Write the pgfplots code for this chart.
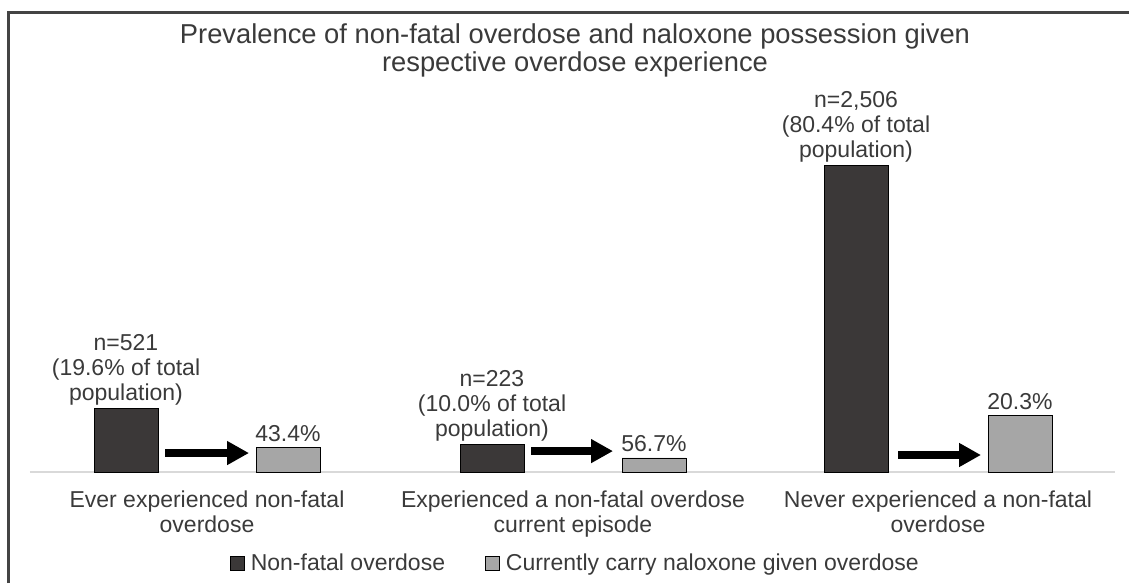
\documentclass[border=0pt]{standalone}
\usepackage{pgfplots}
\pgfplotsset{compat=1.18}
\usepackage{fontspec}
\setmainfont{Liberation Sans}
\usetikzlibrary{arrows.meta}
\definecolor{darkbar}{HTML}{3B3838}
\definecolor{lightbar}{HTML}{A6A6A6}
\definecolor{txt}{HTML}{3A3A3A}
\definecolor{frame}{HTML}{444444}
\definecolor{baseln}{HTML}{D9D9D9}
\newcommand{\lbl}{\fontsize{17.25pt}{18.75pt}\selectfont}

\begin{document}
\begin{tikzpicture}
\useasboundingbox (0,0) rectangle (846.75pt,437.25pt);
% frame (only top and left edges are inside the picture)
\draw[frame, line width=2.2pt] (6.4pt,0pt) -- (6.4pt,427.9pt) -- (846.75pt,427.9pt);
\node[anchor=north, align=center, text=txt, inner sep=0pt,
      font=\fontsize{20.5pt}{20.5pt}\selectfont] at (431.25pt,419.5pt)
  {Prevalence of non-fatal overdose and naloxone possession given\\respective overdose experience};

\begin{axis}[
  at={(22.5pt,83.25pt)}, anchor=south west,
  scale only axis, width=813.75pt, height=275.25pt,
  xmin=30, xmax=1115, ymin=0, ymax=3000,
  clip=false,
  hide y axis,
  axis x line*=bottom,
  x axis line style={baseln, line width=0.8pt},
  major tick length=0pt,
  xtick={207,573,938},
  xticklabels={{Ever experienced non-fatal\\overdose},
               {Experienced a non-fatal overdose\\current episode},
               {Never experienced a non-fatal\\overdose}},
  xticklabel style={align=center, font=\lbl, text=txt, anchor=north,
                    inner sep=0pt, yshift=-14pt},
  ybar, bar width=64, bar shift=0pt,
  legend style={at={(0.503,-0.248)}, anchor=center, draw=none, fill=none,
                legend columns=2, font=\lbl, text=txt,
                /tikz/every odd column/.append style={column sep=2.5pt},
                /tikz/every even column/.append style={column sep=28pt}},
  legend image code/.code={\draw[#1, line width=0.6pt] (0pt,-5.3pt) rectangle (10.5pt,5.3pt);},
]
\addplot[fill=darkbar, draw=black, line width=0.6pt,
         nodes near coords, point meta=explicit symbolic,
         nodes near coords style={align=center, font=\lbl, text=txt,
                                  inner sep=2pt, anchor=south}]
  coordinates {
    (126,521)  [{n=521\\(19.6\% of total\\population)}]
    (492,223)  [{n=223\\(10.0\% of total\\population)}]
    (856,2506) [{n=2,506\\(80.4\% of total\\population)}]
  };
\addplot[fill=lightbar, draw=black, line width=0.6pt,
         nodes near coords, point meta=explicit symbolic,
         nodes near coords style={font=\lbl, text=txt,
                                  inner sep=4pt, anchor=south}]
  coordinates {
    (288,200)  [43.4\%]
    (654,115)  [56.7\%]
    (1020,463) [20.3\%]
  };
\legend{Non-fatal overdose, Currently carry naloxone given overdose}

\draw[black, line width=6pt, -{Triangle[length=16.5pt,width=17pt]}]
  (axis cs:165,155) -- (axis cs:249,155);
\draw[black, line width=6pt, -{Triangle[length=16.5pt,width=17pt]}]
  (axis cs:531,171) -- (axis cs:613,171);
\draw[black, line width=6pt, -{Triangle[length=16.5pt,width=17pt]}]
  (axis cs:898,139) -- (axis cs:981,139);
\end{axis}
\end{tikzpicture}
\end{document}
